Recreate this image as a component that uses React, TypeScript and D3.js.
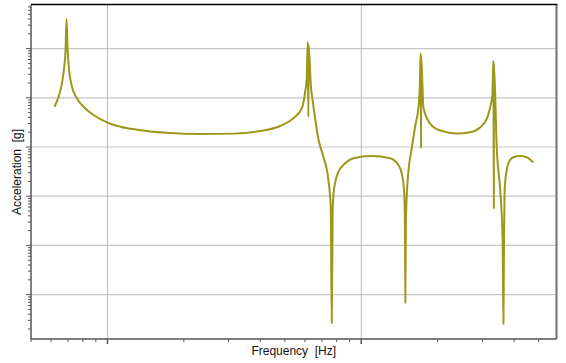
import React from 'react';
import * as d3 from 'd3';

// frequency response (Hz, g)
const freq = [
  6.19, 6.42, 6.62, 6.76, 6.84, 6.9, 6.97, 7.09, 7.25, 7.58, 8.05, 8.82, 10.0, 11.23, 13.07, 17.15,
  23.2, 31.4, 40.0, 47.9, 54.0, 58.3, 60.1, 61.0, 61.5, 61.9, 62.0, 63.4, 64.3, 67.9, 70.9, 74.2,
  75.8, 76.5, 77.15, 77.8, 78.85, 81.25, 86.4, 93.1, 110.0, 129.8, 140.0, 144.3, 147.4, 148.6,
  149.1, 149.8, 150.8, 153.3, 158.1, 162.9, 168.1, 170.1, 171.3, 172.0, 172.15, 175.6, 181.1,
  192.2, 210.5, 237.7, 268.1, 293.6, 312.0, 321.5, 328.3, 331.6, 332.8, 333.0, 341.6, 353.9,
  360.4, 363.0, 365.0, 367.0, 374.0, 379.5, 397.1, 421.9, 448.3, 476.0,
];
const accel = [
  6.59, 10.5, 19.7, 42.9, 93.6, 400, 93.6, 31.5, 16.8, 9.77, 6.59, 4.47, 3.12, 2.59, 2.25, 1.95,
  1.84, 1.87, 2.11, 2.67, 3.83, 6.12, 13.1, 25.3, 136, 4.07, 120, 15.8, 9.02, 1.39, 0.635, 0.214,
  0.0612, 0.000261, 0.0524, 0.116, 0.186, 0.315, 0.466, 0.589, 0.656, 0.589, 0.431, 0.292, 0.134,
  0.0285, 0.000684, 0.026, 0.0837, 0.31, 0.954, 2.59, 6.59, 18.2, 80.3, 0.941, 72, 6.59, 3.89,
  2.55, 2.08, 1.88, 1.99, 2.49, 3.71, 6.2, 11.4, 57.3, 0.0568, 50, 1.0, 0.1,
  0.0129, 0.000253, 0.0129, 0.134, 0.341, 0.466, 0.618, 0.656, 0.618, 0.484,
];

const xDomain = [5, 587.5];
const yDomain = [1.253e-4, 769];

const W = 566;
const H = 363;
const left = 31;
const right = 556.5;
const top = 5;
const bottom = 339;

const logTicks = (lo: number, hi: number) => {
  const out: { v: number; major: boolean }[] = [];
  for (let k = Math.floor(Math.log10(lo)); k <= Math.ceil(Math.log10(hi)); k++) {
    for (let m = 1; m < 10; m++) {
      const v = m * Math.pow(10, k);
      if (v >= lo && v <= hi) out.push({ v, major: m === 1 });
    }
  }
  return out;
};

const font = 'Liberation Sans, Arial, sans-serif';

export default function App() {
  const x = d3.scaleLog().domain(xDomain).range([left, right]);
  const y = d3.scaleLog().domain(yDomain).range([bottom, top]);

  const pts = freq.map((f, i) => [f, accel[i]] as [number, number]);
  const line = d3
    .line<[number, number]>()
    .x((d) => x(d[0]))
    .y((d) => y(d[1]))
    .curve(d3.curveMonotoneX);

  const xt = logTicks(xDomain[0], xDomain[1]);
  const yt = logTicks(yDomain[0], yDomain[1]);

  return (
    <div style={{ position: 'absolute', left: 0, top: 0 }}>
      <svg width={W} height={H} style={{ display: 'block', background: '#fff' }}>
        {/* grid */}
        {yt
          .filter((t) => t.major)
          .map((t) => (
            <line key={'gy' + t.v} x1={left} x2={right} y1={y(t.v)} y2={y(t.v)} stroke="#c6c6c6" strokeWidth={1.2} />
          ))}
        {xt
          .filter((t) => t.major)
          .map((t) => (
            <line key={'gx' + t.v} x1={x(t.v)} x2={x(t.v)} y1={top} y2={bottom} stroke="#b8b8b8" strokeWidth={1} />
          ))}

        <path d={line(pts) ?? ''} fill="none" stroke="#9d971b" strokeWidth={2} strokeLinejoin="round" />

        {/* ticks */}
        {yt.map((t) => (
          <line
            key={'ty' + t.v}
            x1={left - (t.major ? 5 : 3)}
            x2={left}
            y1={y(t.v)}
            y2={y(t.v)}
            stroke="#555"
            strokeWidth={1}
          />
        ))}
        {xt.map((t) => (
          <line
            key={'tx' + t.v}
            x1={x(t.v)}
            x2={x(t.v)}
            y1={bottom}
            y2={bottom + (t.major ? 5 : 3)}
            stroke="#555"
            strokeWidth={t.major ? 1.5 : 1}
          />
        ))}

        {/* frame */}
        <line x1={left} x2={right + 1} y1={top - 0.5} y2={top - 0.5} stroke="#000" strokeWidth={1.4} />
        <line x1={right} x2={right} y1={top} y2={bottom} stroke="#707070" strokeWidth={2} />
        <line x1={left} x2={left} y1={top} y2={bottom} stroke="#555" strokeWidth={1.5} />
        <line x1={left} x2={right} y1={bottom} y2={bottom} stroke="#555" strokeWidth={1.5} />

        <text x={(left + right) / 2} y={355} textAnchor="middle" fontFamily={font} fontSize={12} fill="#111">
          {'Frequency\u00a0\u00a0[Hz]'}
        </text>
        <text
          transform={`translate(21,${(top + bottom) / 2}) rotate(-90)`}
          textAnchor="middle"
          fontFamily={font}
          fontSize={12}
          fill="#111"
        >
          {'Acceleration\u00a0\u00a0[g]'}
        </text>
      </svg>
    </div>
  );
}
